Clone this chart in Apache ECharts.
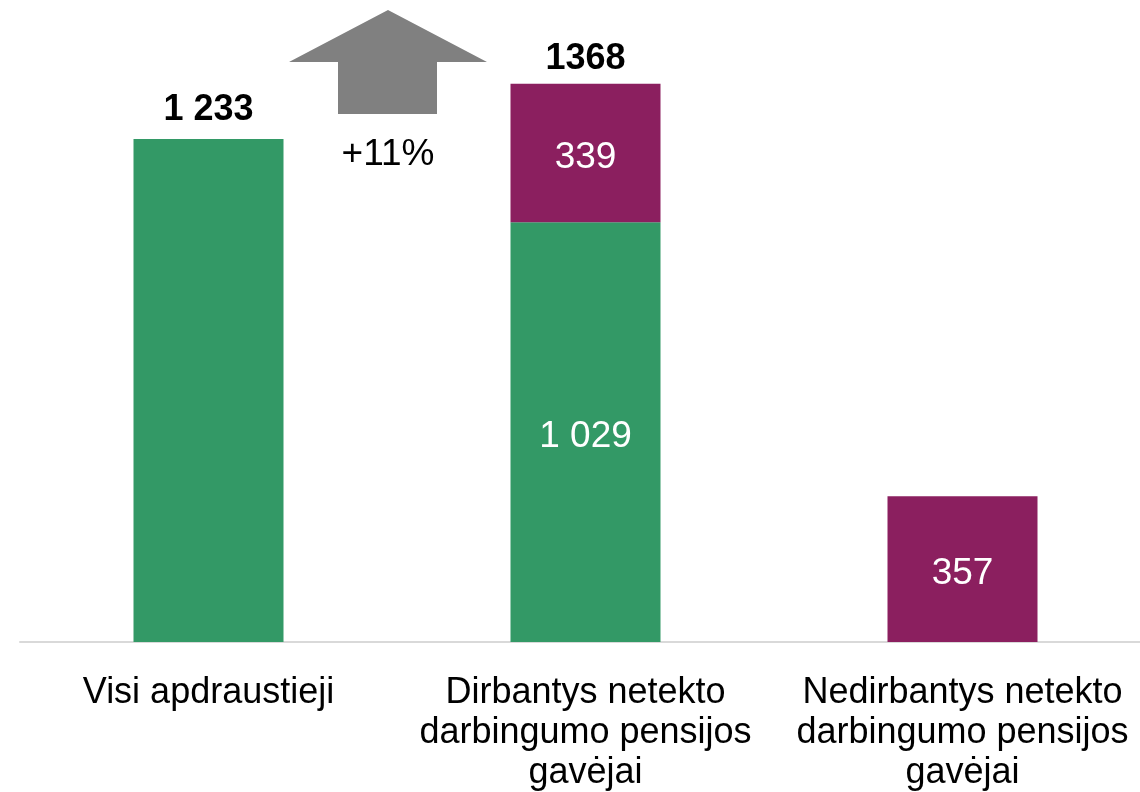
<!DOCTYPE html>
<html>
<head>
<meta charset="utf-8">
<script src="https://cdn.jsdelivr.net/npm/echarts@6/dist/echarts.min.js"></script>
<style>
html,body{margin:0;padding:0;background:#fff;}
#chart{width:1140px;height:792px;}
</style>
</head>
<body>
<div id="chart"></div>
<script>
'use strict';
var categories = ['Visi apdraustieji', 'Dirbantys netekto\ndarbingumo pensijos\ngavėjai', 'Nedirbantys netekto\ndarbingumo pensijos\ngavėjai'];
var greenValues = [1233, 1029, 0];
var purpleValues = [0, 339, 357];
var totalLabels = ['1 233', '1368', ''];
var greenShowLabel = [false, true, false];
var changeText = '+11%';

var GREEN = '#339966', PURPLE = '#8b1f5f';
var FONT = '"Liberation Sans", Arial, sans-serif';

function fmt(v){
	return String(v).replace(/\B(?=(\d{3})+(?!\d))/g, ' ');
}

var chart = echarts.init(document.getElementById('chart'));
chart.setOption({
	animation:false,
	textStyle:{fontFamily:FONT},
	grid:{left:20, width:1131, top:30, bottom:150, containLabel:false, outerBoundsMode:'none'},
	xAxis:{
		type:'category',
		data:categories,
		axisLine:{lineStyle:{color:'#d9d9d9', width:2}},
		axisTick:{show:false},
		axisLabel:{color:'#000', fontSize:36, lineHeight:40, margin:31, fontFamily:FONT, interval:0}
	},
	yAxis:{type:'value', min:0, max:1500, show:false, splitLine:{show:false}},
	series:[
		{
			name:'green', type:'bar', stack:'s', barWidth:150,
			itemStyle:{color:GREEN},
			data:greenValues.map(function(v, i){
				return {value:v, label:{show:greenShowLabel[i]}};
			}),
			label:{position:'inside', offset:[0,5], color:'#fff', fontSize:37, fontFamily:FONT,
				formatter:function(p){ return fmt(p.value); }}
		},
		{
			name:'purple', type:'bar', stack:'s', barWidth:150,
			itemStyle:{color:PURPLE},
			data:purpleValues.map(function(v){
				return {value:v, label:{show:v > 0}};
			}),
			label:{position:'inside', offset:[0,5], color:'#fff', fontSize:37, fontFamily:FONT,
				formatter:function(p){ return fmt(p.value); }}
		},
		{
			name:'total', type:'bar', stack:'s', barWidth:150,
			itemStyle:{color:'transparent'},
			data:totalLabels.map(function(t, i){
				return {value:0, label:{distance:i === 1 ? 7 : 11}};
			}),
			label:{show:true, position:'top', color:'#000', fontSize:36, fontWeight:'bold', fontFamily:FONT,
				formatter:function(p){ return totalLabels[p.dataIndex]; }}
		}
	],
	graphic:[
		{
			type:'polygon',
			shape:{points:[[388,10],[487,62],[437,62],[437,114],[338,114],[338,62],[289,62]]},
			style:{fill:'#808080'}
		},
		{
			type:'text', x:388, y:155,
			style:{text:changeText, fill:'#000', font:'37px ' + FONT, textAlign:'center', textVerticalAlign:'middle'}
		}
	]
});
</script>
</body>
</html>
